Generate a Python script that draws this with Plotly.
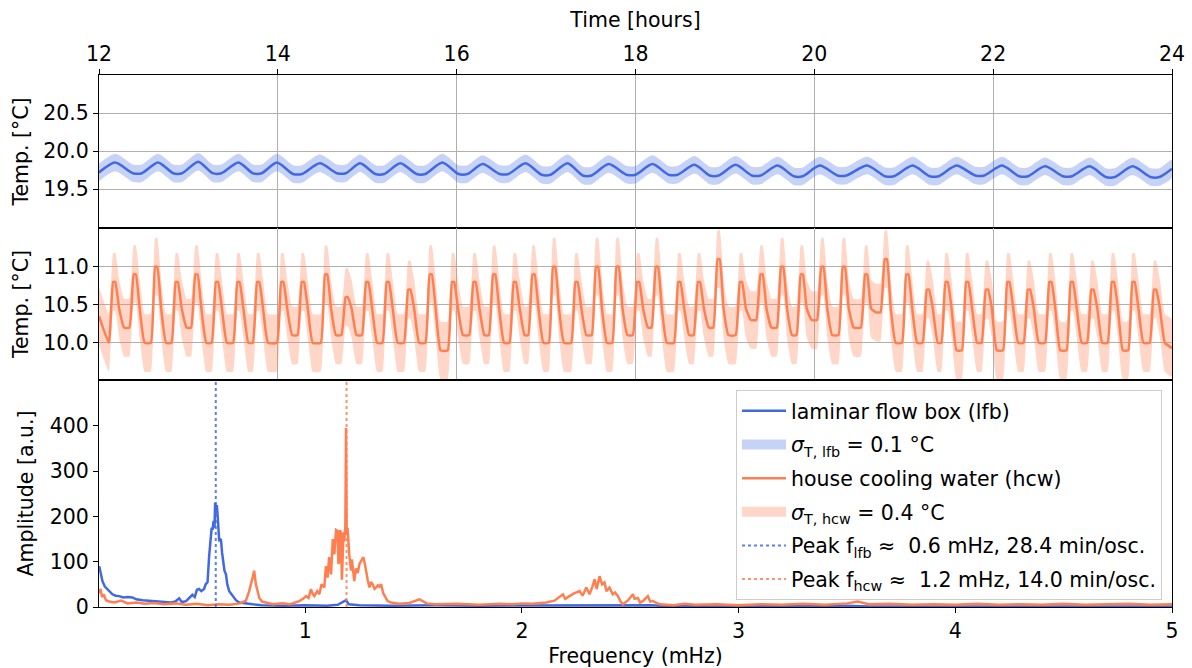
import plotly.graph_objects as go

FONT = "DejaVu Sans"
BLUE = "#4169E1"
ORANGE = "#FF7F50"
BLUE_BAND = "rgba(65,105,225,0.30)"
ORANGE_BAND = "rgba(255,127,80,0.32)"
BLUE_DOT = "rgba(65,105,225,0.85)"
ORANGE_DOT = "rgba(255,127,80,0.85)"
GRID = "#b0b0b0"

# ---------------- laminar flow box temperature (hours, degC) ----------------
lfb_hours = [12.00,
             12.18, 12.38, 12.48, 12.66, 12.83, 12.93, 13.11, 13.27, 13.37,
             13.56, 13.72, 13.82, 13.99, 14.17, 14.27, 14.47, 14.66, 14.76,
             14.92, 15.09, 15.19, 15.37, 15.55, 15.65, 15.84, 16.02, 16.12,
             16.29, 16.48, 16.58, 16.77, 16.95, 17.05, 17.24, 17.41, 17.51,
             17.70, 17.90, 18.00, 18.19, 18.37, 18.47, 18.66, 18.83, 18.93,
             19.12, 19.30, 19.40, 19.59, 19.77, 19.87, 20.06, 20.26, 20.36,
             20.59, 20.79, 20.89, 21.10, 21.29, 21.39, 21.59, 21.80, 21.90,
             22.10, 22.29, 22.39, 22.58, 22.78, 22.88, 23.08, 23.26, 23.36,
             23.56, 23.76, 23.86,
             24.00]
lfb_temp = [19.72,
            19.85, 19.71, 19.71, 19.85, 19.71, 19.71, 19.86, 19.71, 19.71,
            19.85, 19.71, 19.71, 19.85, 19.70, 19.70, 19.84, 19.71, 19.71,
            19.84, 19.70, 19.70, 19.84, 19.70, 19.70, 19.85, 19.70, 19.70,
            19.83, 19.70, 19.70, 19.84, 19.69, 19.69, 19.84, 19.68, 19.68,
            19.83, 19.69, 19.69, 19.83, 19.69, 19.69, 19.82, 19.68, 19.68,
            19.82, 19.68, 19.68, 19.81, 19.67, 19.67, 19.81, 19.68, 19.68,
            19.81, 19.67, 19.67, 19.81, 19.67, 19.67, 19.81, 19.68, 19.68,
            19.81, 19.67, 19.67, 19.80, 19.67, 19.67, 19.80, 19.66, 19.66,
            19.80, 19.66, 19.66,
            19.77]
lfb_band = 0.115

# ---------------- house cooling water temperature ----------------
hcw_peak_hours = [12.17, 12.40, 12.64, 12.87, 13.09, 13.32, 13.56, 13.78, 14.05, 14.28,
                  14.54, 14.77, 15.00, 15.23, 15.47, 15.71, 15.96, 16.20, 16.42, 16.65,
                  16.86, 17.09, 17.34, 17.57, 17.80, 18.03, 18.24, 18.49, 18.71, 18.93,
                  19.18, 19.41, 19.64, 19.86, 20.09, 20.33, 20.58, 20.80, 21.04, 21.27,
                  21.48, 21.71, 21.93, 22.17, 22.40, 22.64, 22.88, 23.11, 23.34, 23.57,
                  23.81]
hcw_peak_temp = [10.8, 10.9, 11.0, 10.8, 10.9, 10.8, 10.8, 10.8, 10.8, 10.8,
                 10.9, 10.6, 10.8, 10.8, 10.7, 10.9, 10.8, 10.8, 10.9, 10.8,
                 10.9, 11.0, 10.8, 11.0, 11.0, 10.8, 11.0, 10.8, 10.8, 11.1,
                 10.8, 10.9, 11.0, 10.9, 11.0, 11.0, 10.9, 11.1, 10.9, 10.7,
                 10.8, 10.8, 10.7, 10.8, 10.7, 10.8, 10.8, 10.7, 10.8, 10.8,
                 10.7]
# trough level before the first peak, then after each peak
hcw_trough_temp = [10.0,
                   10.2, 10.0, 10.0, 10.2, 10.0, 10.0, 10.0, 10.0, 10.1, 10.0,
                   10.1, 10.1, 10.0, 10.0, 10.0, 9.9, 10.1, 10.1, 10.0, 10.1,
                   10.0, 10.0, 10.1, 10.0, 10.1, 10.2, 10.0, 10.1, 10.2, 10.1,
                   10.3, 10.2, 10.1, 10.3, 10.1, 10.2, 10.4, 10.0, 10.0, 10.0,
                   9.9, 10.0, 9.9, 10.0, 10.0, 9.9, 10.0, 10.0, 9.9, 10.0,
                   10.0]
hcw_shoulder_temp = 10.45   # level of the knee on the falling flank
hcw_start_temp = 10.35
hcw_end_temp = 9.93
hcw_band = 0.38
# waveform timing (hours relative to each peak)
hcw_rise_start = -0.06
hcw_top_start = -0.012
hcw_top_end = 0.012
hcw_knee = 0.055
hcw_trough_start = 0.11

# ---------------- amplitude spectra (mHz, a.u.) ----------------
lfb_freq = [0.049, 0.055, 0.064, 0.075, 0.085, 0.095, 0.11, 0.125, 0.141, 0.16,
            0.18, 0.202, 0.22, 0.25, 0.279, 0.31, 0.34, 0.357, 0.38, 0.40,
            0.418, 0.43, 0.45, 0.479, 0.49, 0.50, 0.510, 0.52, 0.533, 0.54,
            0.549, 0.556, 0.564, 0.568, 0.572, 0.577, 0.581, 0.584, 0.588, 0.592,
            0.595, 0.599, 0.603, 0.607, 0.611, 0.616, 0.621, 0.627, 0.634, 0.64,
            0.649, 0.657, 0.664, 0.68, 0.695, 0.72, 0.757, 0.8, 0.9, 1.0,
            1.1, 1.15, 1.188, 1.2, 1.25, 1.4, 1.6, 1.8, 2.0, 2.2,
            2.4, 2.6, 2.65, 2.8, 3.0, 3.2, 3.4, 3.5, 3.6, 4.0,
            4.5, 5.0]
lfb_amp = [90, 75, 57, 45, 40, 35, 28, 25, 24, 21,
           22, 21, 17, 15, 14, 13, 12, 12, 10, 12,
           19, 11, 13, 27, 22, 38, 40, 35, 40, 50,
           55, 110, 150, 175, 170, 190, 175, 230, 215, 225,
           205, 180, 145, 150, 148, 120, 95, 80, 72, 50,
           35, 30, 25, 15, 10, 8, 6, 4, 3, 4,
           3, 5, 15, 6, 4, 3, 4, 3, 3, 4,
           4, 4, 2, 1, 1, 2, 3, 3, 1, 1,
           1, 1]

hcw_freq = [0.049, 0.055, 0.062, 0.07, 0.08, 0.095, 0.12, 0.15, 0.18, 0.22,
            0.26, 0.30, 0.35, 0.40, 0.45, 0.50, 0.55, 0.60, 0.65, 0.70,
            0.726, 0.741, 0.757, 0.764, 0.772, 0.788, 0.80, 0.818, 0.85, 0.895,
            0.93, 0.972, 0.99, 1.003, 1.015, 1.026, 1.035, 1.042, 1.055, 1.065,
            1.075, 1.088, 1.095, 1.103, 1.11, 1.119, 1.127, 1.134, 1.142, 1.149,
            1.153, 1.157, 1.161, 1.165, 1.169, 1.172, 1.176, 1.180, 1.185, 1.188,
            1.191, 1.195, 1.200, 1.203, 1.208, 1.211, 1.215, 1.218, 1.222, 1.226,
            1.234, 1.242, 1.25, 1.257, 1.268, 1.275, 1.280, 1.288, 1.296, 1.303,
            1.311, 1.32, 1.327, 1.335, 1.342, 1.350, 1.36, 1.373, 1.38, 1.396,
            1.434, 1.48, 1.527, 1.56, 1.6, 1.7, 1.8, 1.9, 1.958, 2.0,
            2.05, 2.112, 2.15, 2.189, 2.2, 2.219, 2.24, 2.266, 2.28, 2.297,
            2.312, 2.325, 2.335, 2.345, 2.358, 2.37, 2.381, 2.39, 2.404, 2.419,
            2.43, 2.443, 2.455, 2.466, 2.49, 2.512, 2.52, 2.535, 2.545, 2.558,
            2.581, 2.592, 2.604, 2.635, 2.7, 2.75, 2.8, 2.9, 3.0, 3.1,
            3.2, 3.3, 3.4, 3.5, 3.55, 3.6, 3.7, 3.8, 3.9, 4.0,
            4.1, 4.2, 4.3, 4.4, 4.5, 4.6, 4.7, 4.8, 4.9, 5.0]
hcw_amp = [30, 40, 22, 28, 15, 12, 10, 14, 8, 10,
           7, 9, 6, 8, 5, 7, 4, 6, 5, 8,
           14, 35, 65, 80, 50, 20, 12, 10, 6, 8,
           6, 13, 18, 24, 20, 39, 28, 24, 35, 28,
           50, 43, 90, 65, 110, 72, 150, 116, 170, 168,
           95, 101, 170, 160, 60, 101, 165, 145, 180, 395,
           160, 175, 130, 116, 95, 80, 105, 90, 70, 57,
           85, 75, 95, 101, 110, 95, 80, 60, 43, 55,
           50, 40, 43, 48, 45, 50, 30, 20, 13, 10,
           7, 9, 17, 8, 6, 7, 5, 7, 6, 8,
           7, 10, 14, 28, 18, 24, 30, 35, 25, 43,
           28, 45, 61, 40, 68, 50, 54, 35, 43, 28,
           32, 24, 12, 6, 15, 28, 18, 20, 10, 13,
           24, 12, 13, 6, 4, 7, 5, 6, 4, 6,
           5, 7, 5, 8, 12, 6, 7, 5, 6, 5,
           7, 5, 6, 5, 7, 5, 6, 7, 5, 6]

peak_periods_min = [28.4, 14.0]
time_ticks = [12, 14, 16, 18, 20, 22, 24]
lfb_ticks = [19.5, 20.0, 20.5]
hcw_ticks = [10.0, 10.5, 11.0]
freq_ticks = [1, 2, 3, 4, 5]
amp_ticks = [0, 100, 200, 300, 400]
time_range = [12, 24]
lfb_range = [18.99, 21.0]
hcw_range = [9.51, 11.51]
freq_range = [0.048, 5.0]
amp_range = [0, 501]

# ---------------- build hcw polyline from the read peaks / troughs ----------------
hcw_hours = [time_range[0]]
hcw_temp = [hcw_start_temp]
for i, (tp, vp) in enumerate(zip(hcw_peak_hours, hcw_peak_temp)):
    tr_before = hcw_trough_temp[i]
    tr_after = hcw_trough_temp[i + 1]
    knee_v = max(min(hcw_shoulder_temp, vp), tr_after)
    hcw_hours += [tp + hcw_rise_start, tp + hcw_top_start, tp + hcw_top_end,
                  tp + hcw_knee, tp + hcw_trough_start]
    hcw_temp += [tr_before, vp, vp, knee_v, tr_after]
hcw_hours.append(time_range[1])
hcw_temp.append(hcw_end_temp)


def band(xs, ys, half):
    up = [y + half for y in ys]
    lo = [y - half for y in ys]
    return xs + xs[::-1], up + lo[::-1]


fig = go.Figure()

bx, by = band(lfb_hours, lfb_temp, lfb_band)
fig.add_trace(go.Scatter(x=bx, y=by, fill="toself", fillcolor=BLUE_BAND,
                         line=dict(width=0, shape="spline", smoothing=0.7),
                         mode="lines", hoverinfo="skip", showlegend=False,
                         xaxis="x", yaxis="y"))
fig.add_trace(go.Scatter(x=lfb_hours, y=lfb_temp, mode="lines",
                         line=dict(color=BLUE, width=2.5, shape="spline", smoothing=0.7),
                         showlegend=False, xaxis="x", yaxis="y"))

bx, by = band(hcw_hours, hcw_temp, hcw_band)
fig.add_trace(go.Scatter(x=bx, y=by, fill="toself", fillcolor=ORANGE_BAND,
                         line=dict(width=0, shape="spline", smoothing=0.4),
                         mode="lines", hoverinfo="skip",
                         showlegend=False, xaxis="x2", yaxis="y2"))
fig.add_trace(go.Scatter(x=hcw_hours, y=hcw_temp, mode="lines",
                         line=dict(color=ORANGE, width=2.5, shape="spline", smoothing=0.4),
                         showlegend=False, xaxis="x2", yaxis="y2"))

fig.add_trace(go.Scatter(x=lfb_freq, y=lfb_amp, mode="lines",
                         line=dict(color=BLUE, width=2.5),
                         name="laminar flow box (lfb)", legendrank=1, legendgroup="a",
                         xaxis="x3", yaxis="y3"))
fig.add_trace(go.Scatter(x=hcw_freq, y=hcw_amp, mode="lines",
                         line=dict(color=ORANGE, width=2.5),
                         name="house cooling water (hcw)", legendrank=3, legendgroup="c",
                         xaxis="x3", yaxis="y3"))

peak_f = [1000.0 / (60.0 * p) for p in peak_periods_min]
fig.add_trace(go.Scatter(x=[peak_f[0], peak_f[0]], y=amp_range, mode="lines",
                         line=dict(color=BLUE_DOT, width=2, dash="dot"),
                         name="Peak f<sub>lfb</sub> ≈\u00a0 0.6 mHz, 28.4 min/osc.",
                         legendrank=5, legendgroup="e", xaxis="x3", yaxis="y3"))
fig.add_trace(go.Scatter(x=[peak_f[1], peak_f[1]], y=amp_range, mode="lines",
                         line=dict(color=ORANGE_DOT, width=2, dash="dot"),
                         name="Peak f<sub>hcw</sub> ≈\u00a0 1.2 mHz, 14.0 min/osc.",
                         legendrank=6, legendgroup="f", xaxis="x3", yaxis="y3"))

# legend-only swatches for the uncertainty bands (filled rectangles)
fig.add_trace(go.Scatter(x=[None], y=[None], mode="lines",
                         line=dict(color=BLUE_BAND, width=16),
                         name="<i>σ</i><sub>T, lfb</sub> = 0.1 °C",
                         legendrank=2, legendgroup="b", xaxis="x3", yaxis="y3"))
fig.add_trace(go.Scatter(x=[None], y=[None], mode="lines",
                         line=dict(color=ORANGE_BAND, width=16),
                         name="<i>σ</i><sub>T, hcw</sub> = 0.4 °C",
                         legendrank=4, legendgroup="d", xaxis="x3", yaxis="y3"))

FS = 20.5
axis_common = dict(showline=True, mirror=True, linecolor="black", linewidth=1.2,
                   ticks="outside", ticklen=5, tickwidth=1.2, tickcolor="black",
                   zeroline=False, automargin=False,
                   tickfont=dict(family=FONT, size=FS, color="black"))

d_top = (607 - 228) / 532
d_mid = (607 - 380) / 532

fig.update_layout(
    width=1192, height=668,
    margin=dict(l=99, r=20, t=75, b=61),
    paper_bgcolor="white", plot_bgcolor="white",
    font=dict(family=FONT, size=FS, color="black"),
    showlegend=True,
    legend=dict(x=0.9907, y=(607 - 390) / 532, xanchor="right", yanchor="top",
                bgcolor="rgba(255,255,255,0.85)", bordercolor="#cccccc", borderwidth=1,
                font=dict(family=FONT, size=FS, color="black"),
                tracegroupgap=4, itemwidth=44),
    xaxis=dict(domain=[0, 1], anchor="y", side="top", range=time_range,
               tickvals=time_ticks, showgrid=True, gridcolor=GRID, gridwidth=1,
               title=dict(text="Time [hours]", font=dict(family=FONT, size=FS), standoff=8),
               **axis_common),
    xaxis2=dict(domain=[0, 1], anchor="y2", range=time_range, matches="x",
                tickvals=time_ticks, showticklabels=False, showgrid=True,
                gridcolor=GRID, gridwidth=1,
                **{k: v for k, v in axis_common.items() if k not in ("ticks",)}, ticks=""),
    xaxis3=dict(domain=[0, 1], anchor="y3", range=freq_range, tickvals=freq_ticks,
                showgrid=False,
                title=dict(text="Frequency (mHz)", font=dict(family=FONT, size=FS), standoff=11),
                **axis_common),
    yaxis=dict(domain=[d_top, 1], anchor="x", range=lfb_range, tickvals=lfb_ticks,
               ticktext=[f"{v:.1f}" for v in lfb_ticks], showgrid=True,
               gridcolor=GRID, gridwidth=1,
               title=dict(text="Temp. [°C]", font=dict(family=FONT, size=FS), standoff=8),
               **axis_common),
    yaxis2=dict(domain=[d_mid, d_top], anchor="x2", range=hcw_range, tickvals=hcw_ticks,
                ticktext=[f"{v:.1f}" for v in hcw_ticks], showgrid=True,
                gridcolor=GRID, gridwidth=1,
                title=dict(text="Temp. [°C]", font=dict(family=FONT, size=FS), standoff=8),
                **axis_common),
    yaxis3=dict(domain=[0, d_mid], anchor="x3", range=amp_range, tickvals=amp_ticks,
                showgrid=False,
                title=dict(text="Amplitude [a.u.]", font=dict(family=FONT, size=FS), standoff=10),
                **axis_common),
)

fig.write_html("out.html")
